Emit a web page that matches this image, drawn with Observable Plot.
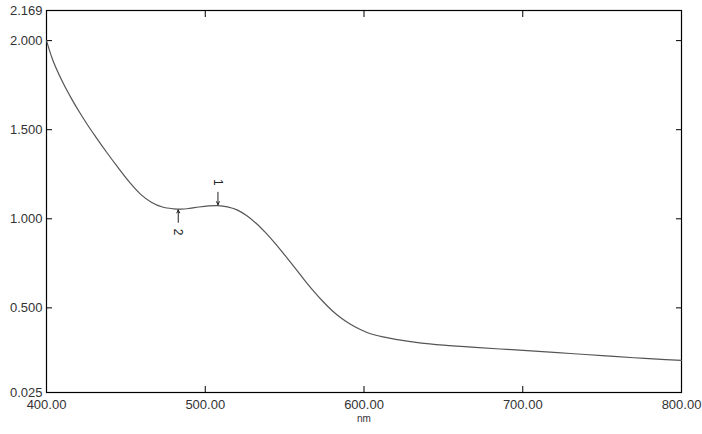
<!DOCTYPE html>
<html>
<head>
<meta charset="utf-8">
<script src="https://cdn.jsdelivr.net/npm/d3@7"></script>
<script src="https://cdn.jsdelivr.net/npm/@observablehq/plot@0.6"></script>
<style>
  html, body { margin: 0; padding: 0; background: #fff; }
  #chart { width: 702px; height: 434px; }
</style>
</head>
<body>
<div id="chart"></div>
<script>
// Wavelength (nm) and absorbance
const wavelengths = [400,404,410,416,421,426,431,438,445,452,459,466,473,480,485,490,496,502,508,514,520,526,532,538,544,550,556,562,568,574,580,586,592,598,604,612,620,635,650,670,690,710,730,750,770,790,800];
const absorbance  = [2.000,1.890,1.770,1.670,1.595,1.525,1.460,1.372,1.288,1.208,1.140,1.093,1.066,1.056,1.054,1.058,1.066,1.072,1.074,1.067,1.050,1.018,0.975,0.922,0.862,0.797,0.730,0.662,0.597,0.537,0.484,0.440,0.405,0.377,0.355,0.337,0.323,0.304,0.291,0.278,0.267,0.256,0.244,0.232,0.220,0.210,0.205];

// Peak / valley picks
const pickLabels = ["1", "2"];
const pickNm     = [508, 483];
const pickAbs    = [1.074, 1.055];
const pickDir    = ["down", "up"];

// Axis ticks
const xTicks = [400, 500, 600, 700, 800];
const yLabelTicks = [0.025, 0.5, 1.0, 1.5, 2.0, 2.169];
const yInnerTicks = [0.5, 1.0, 1.5, 2.0];
const xInnerTicks = [500, 600, 700];
const xTitle = "nm";

const spectrum = wavelengths.map((w, i) => ({nm: w, abs: absorbance[i]}));
const picks = pickLabels.map((l, i) => ({label: l, nm: pickNm[i], abs: pickAbs[i], dir: pickDir[i]}));

const off1 = 0.005, off2 = 0.075, offT = 0.13;
const arrows = picks.map(p => p.dir === "down"
  ? {nm: p.nm, y1: p.abs + off2, y2: p.abs + off1}
  : {nm: p.nm, y1: p.abs - off2, y2: p.abs - off1});
const labels = picks.map(p => ({label: p.label, nm: p.nm, y: p.dir === "down" ? p.abs + offT : p.abs - offT}));

const font = "'Liberation Sans', Arial, sans-serif";
const chart = Plot.plot({
  width: 702,
  height: 434,
  marginLeft: 46,
  marginRight: 21,
  marginTop: 10,
  marginBottom: 42,
  style: {fontFamily: font, fontSize: "13px", color: "#333", background: "#fff"},
  x: {domain: [400, 800]},
  y: {domain: [0.025, 2.169]},
  marks: [
    // labels
    Plot.axisY({anchor: "left", ticks: yLabelTicks, tickFormat: d3.format(".3f"), tickSize: 0, tickPadding: 4, label: null, fill: "#333", fontSize: 13}),
    Plot.axisX({anchor: "bottom", ticks: xTicks, tickFormat: d3.format(".2f"), tickSize: 0, tickPadding: 7, label: null, fill: "#333", fontSize: 13}),
    // inward ticks
    Plot.axisY({anchor: "left", ticks: yInnerTicks, tickSize: 6, dx: 6, text: null, label: null, stroke: "#000"}),
    Plot.axisY({anchor: "right", ticks: yInnerTicks, tickSize: 6, dx: -6, text: null, label: null, stroke: "#000"}),
    Plot.axisX({anchor: "top", ticks: xInnerTicks, tickSize: 6, dy: 6, text: null, label: null, stroke: "#000"}),
    Plot.axisX({anchor: "bottom", ticks: xInnerTicks, tickSize: 6, dy: -6, text: null, label: null, stroke: "#000"}),
    Plot.text([xTitle], {frameAnchor: "bottom", dy: 29, text: d => d, fontSize: 10, fill: "#333"}),
    Plot.frame({stroke: "#000", strokeWidth: 1.2}),
    Plot.line(spectrum, {x: "nm", y: "abs", stroke: "#555", strokeWidth: 1.2, curve: "catmull-rom"}),
    Plot.arrow(arrows, {x1: "nm", x2: "nm", y1: "y1", y2: "y2", stroke: "#222", strokeWidth: 1, headLength: 5, headAngle: 50}),
    Plot.text(labels, {x: "nm", y: "y", text: "label", rotate: 90, fontSize: 12, fill: "#222"})
  ]
});
document.getElementById("chart").appendChild(chart);
</script>
</body>
</html>
